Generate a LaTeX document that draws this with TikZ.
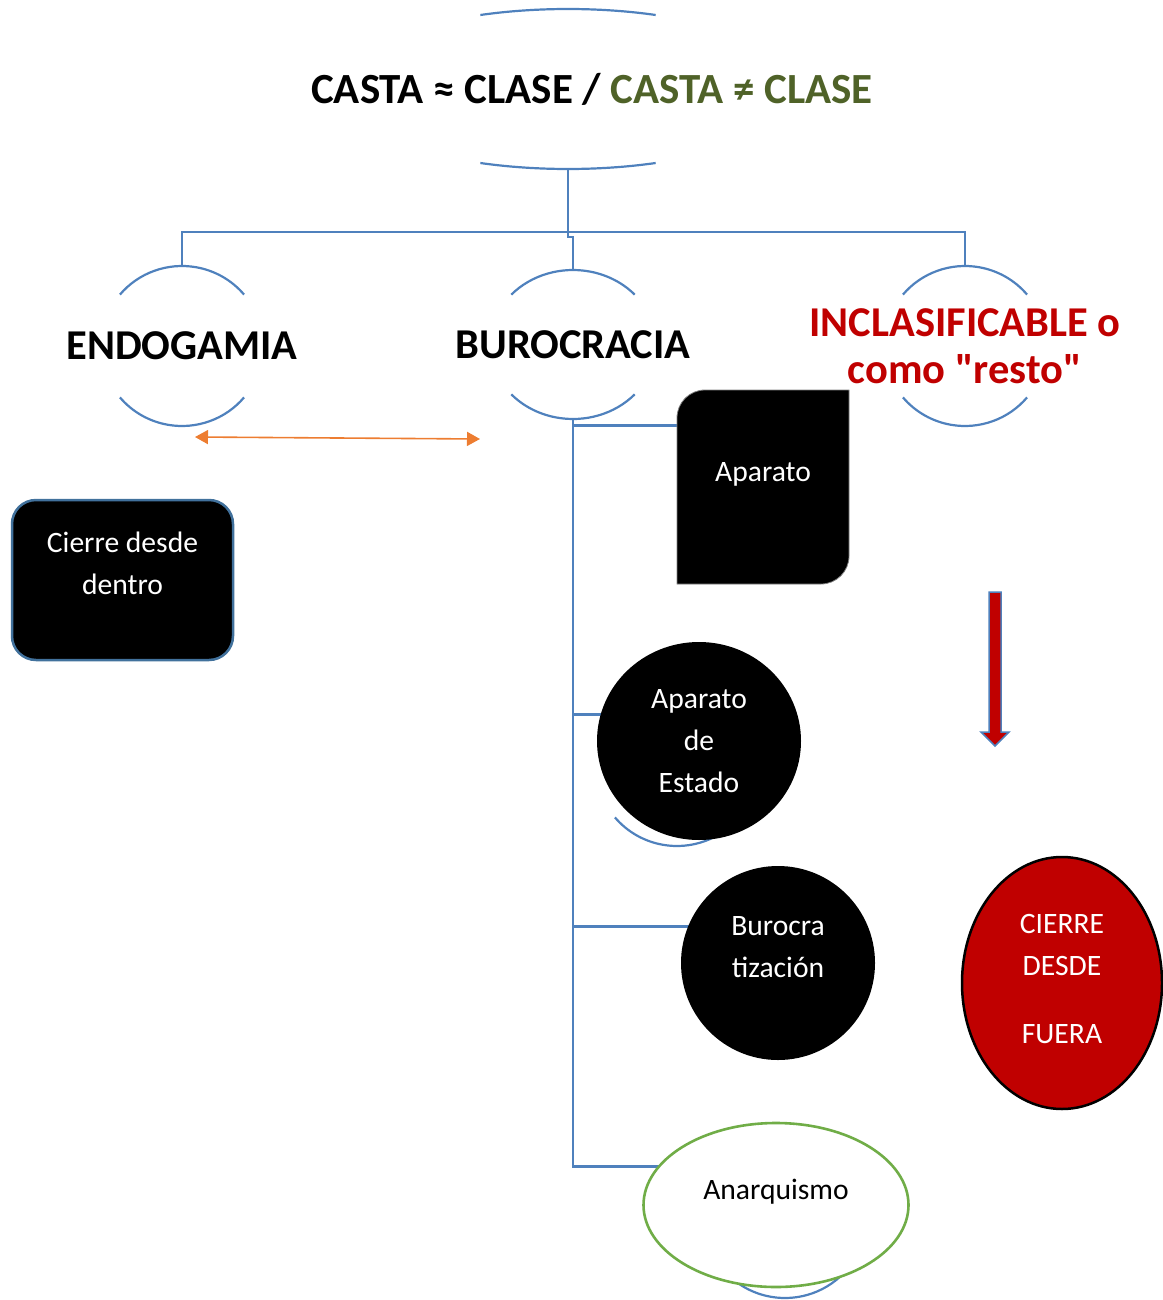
\documentclass[tikz,border=0pt]{standalone}
\usepackage{fontspec}
\setmainfont{Carlito}
\newfontfamily\recta{Carlito}
\usetikzlibrary{arrows.meta,shapes.geometric,backgrounds}

\definecolor{azul}{HTML}{4F81BD}
\definecolor{azulborde}{HTML}{41719C}
\definecolor{naranja}{HTML}{ED7D31}
\definecolor{rojo}{HTML}{C00000}
\definecolor{verde}{HTML}{70AD47}
\definecolor{oliva}{HTML}{4F6228}

\tikzset{
  rama/.style={draw=azul, line width=2.2pt},
  nivel/.style={inner sep=0pt, outer sep=0pt, align=center, font=\fontsize{42.5}{47}\selectfont\bfseries},
  hoja/.style={text=white, fill=black, inner sep=0pt, outer sep=0pt, align=center, font=\fontsize{29.6}{42}\selectfont},
  doble/.style={draw=naranja, line width=1.6pt, {Triangle[length=13pt,width=14pt]}-{Triangle[length=13pt,width=14pt]}},
}

% arcos de arriba y de abajo de cada nivel
\newcommand{\arcos}[4]{%
  \draw[rama] ([shift={(270-#4:#2 and #3)}]#1.center) arc[start angle=270-#4, end angle=270+#4, x radius=#2, y radius=#3];
  \draw[rama] ([shift={(90-#4:#2 and #3)}]#1.center) arc[start angle=90-#4, end angle=90+#4, x radius=#2, y radius=#3];}

\begin{document}
\begin{tikzpicture}[x=1pt, y=-1pt]
  \useasboundingbox (0,0) rectangle (1162,1300);

  % Niveles
  \node[nivel, font=\fontsize{43}{47}\selectfont\bfseries] (titulo) at (568,89) {\hspace*{48pt}CASTA ≈ CLASE / \textcolor{oliva}{CASTA ≠ CLASE}};
  \node[nivel] (endo) at (182,346) {ENDOGAMIA};
  \node[nivel] (buro) at (573,344.5) {BUROCRACIA};
  \node[nivel, text=rojo] (incl) at (965,346) {INCLASIFICABLE o\\como {\recta"}resto{\recta"}};

  \coordinate (bus) at (568,232);
  \coordinate (apH) at (758,477);
  \coordinate (estH) at (677,766);
  \coordinate (burH) at (778,978);
  \coordinate (anaH) at (785,1218);

  % Hojas
  \node[hoja, rounded corners=24, draw=azulborde, line width=2.5pt, minimum width=221, minimum height=160, text depth=33] (dentro) at (122.5,580) {Cierre desde\\dentro};
  \node[hoja, fill=none, minimum width=172, minimum height=194, text depth=30] (aparato) at (763,487) {Aparato};
  \node[hoja, ellipse, minimum width=204, minimum height=198] (estado) at (699,741) {Aparato\\de\\Estado};
  \node[hoja, ellipse, minimum width=194, minimum height=194, text depth=33] (burocra) at (778,963) {Burocra\\tización};
  \node[hoja, ellipse, fill=white, text=black, draw=verde, line width=2.6pt, minimum width=265, minimum height=164, text depth=31] (anarq) at (776,1205) {Anarquismo};
  \node[hoja, ellipse, fill=rojo, draw=black, line width=2.5pt, minimum width=200, minimum height=252, text depth=8] (fuera) at (1062,983) {CIERRE\\DESDE\\[26pt]FUERA};

  % Flechas
  \coordinate (flechaI) at (195,437);
  \coordinate (flechaD) at (480,439);
  \draw[doble] (flechaI) -- (flechaD);
  \coordinate (flechaR) at (995,592);
  \filldraw[fill=rojo, draw=azul, line width=1.5pt] (flechaR) ++(-6,0) -- ++(12,0) -- ++(0,140) -- ++(8,0) -- ++(-14,14) -- ++(-14,-14) -- ++(8,0) -- cycle;

  \begin{scope}[on background layer]
    \draw[rama] ([yshift=-80pt]titulo.center) -- (bus) -| ([yshift=80pt]endo.center);
    \draw[rama] (bus) -| ([yshift=80pt]incl.center);
    \draw[rama] (bus) -- ++(0,5) -| ([yshift=74.5pt]buro.center);
    \arcos{titulo}{231}{80}{22.3}
    \arcos{endo}{81}{80}{50}
    \arcos{buro}{83}{74.5}{48}
    \arcos{incl}{81}{80}{50}
    \foreach \h in {apH,estH,burH,anaH}{
      \arcos{\h}{81}{80}{50}
      \draw[rama] ([yshift=-74.5pt]buro.center) |- ([shift={(220:81 and 80)}]\h.center);
    }
    \filldraw[fill=black, draw=gray, line width=0.8pt] (aparato.south west) -- ([yshift=-28pt]aparato.north west) arc[start angle=180, end angle=270, radius=28] -- (aparato.north east) -- ([yshift=28pt]aparato.south east) arc[start angle=0, end angle=90, radius=28] -- cycle;
  \end{scope}
\end{tikzpicture}
\end{document}
